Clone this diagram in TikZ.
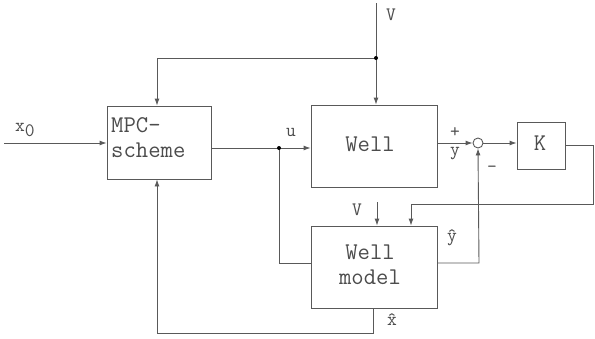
\documentclass[tikz,border=0pt]{standalone}
\usepackage{fontspec}
\usetikzlibrary{arrows.meta}
\begin{document}
\begin{tikzpicture}[x=1pt,y=-1pt,
  every node/.style={font=\ttfamily, text=black!70},
  wire/.style={draw=black!65, line width=0.9pt},
  arr/.style={wire, -{Latex[length=7pt,width=5pt]}},
  blk/.style={draw=black!65, line width=0.9pt, inner sep=0pt},
  big/.style={font=\ttfamily\fontsize{24}{25}\selectfont},
  lab/.style={font=\ttfamily\fontsize{19}{20}\selectfont, inner sep=0pt},
  dotc/.style={circle, fill=black, inner sep=0pt, minimum size=4pt}]
\useasboundingbox (0,0) rectangle (595,338);
% blocks
\node[blk, minimum width=104pt, minimum height=73pt] (mpc) at (159,142.5) {};
\node[big, align=left, anchor=north west, inner sep=0pt] at (111,117) {MPC-\\scheme};
\node[blk, minimum width=126pt, minimum height=82pt] (well) at (374,146) {};
\node[big] at (370,144) {Well};
\node[blk, minimum width=126pt, minimum height=82pt] (model) at (374,267) {};
\node[big, align=center] at (370,265) {Well\\model};
\node[blk, minimum width=48pt, minimum height=47pt] (K) at (541,145.5) {};
\node[big] at (540,143) {K};
\node[draw=black!65, line width=0.9pt, circle, minimum size=10pt, inner sep=0pt] (sum) at (478,143) {};
% coordinates
\coordinate (x0s) at (4,143);
\coordinate (vtop) at (376,3);
\coordinate (vdot) at (376,58);
\coordinate (fbl) at (157,58);
\coordinate (udot) at (279,148);
\coordinate (ub) at (279,263);
\coordinate (kr) at (593,145);
\coordinate (kd) at (593,204);
\coordinate (kl) at (411,204);
\coordinate (mb) at (479,263);
\coordinate (xh) at (373,333);
\coordinate (xl) at (157,333);
\coordinate (v2) at (377,202);
% connectors
\draw[arr] (x0s) -- (x0s -| mpc.west);
\draw[arr] (vtop) -- (vtop |- well.north);
\draw[arr] (vdot) -- (fbl) -- (fbl |- mpc.north);
\draw[arr] (mpc.east |- udot) -- (udot -| well.west);
\draw[wire] (udot) -- (ub) -- (ub -| model.west);
\draw[arr] (well.east |- sum) -- (sum.west);
\draw[arr] (sum.east) -- (sum -| K.west);
\draw[arr] (K.east |- kr) -- (kr) -- (kd) -- (kl) -- (kl |- model.north);
\draw[arr] (v2) -- (v2 |- model.north);
\draw[arr] (model.east |- mb) -- (mb) -- (sum.south);
\draw[arr] (xh |- model.south) -- (xh) -- (xl) -- (xl |- mpc.south);
\node[dotc] at (vdot) {};
\node[dotc] at (udot) {};
% labels
\node[lab] at (25,130) {x\raisebox{-5pt}{0}};
\node[lab] at (291,132) {u};
\node[lab] at (391,15) {V};
\node[lab] at (455,132) {+};
\node[lab] at (455,154) {y};
\node[lab] at (492,169) {\textendash};
\node[lab] at (357,210) {V};
\node[lab] at (452,238) {\^{y}};
\node[lab] at (392,320) {\^{x}};
\end{tikzpicture}
\end{document}
